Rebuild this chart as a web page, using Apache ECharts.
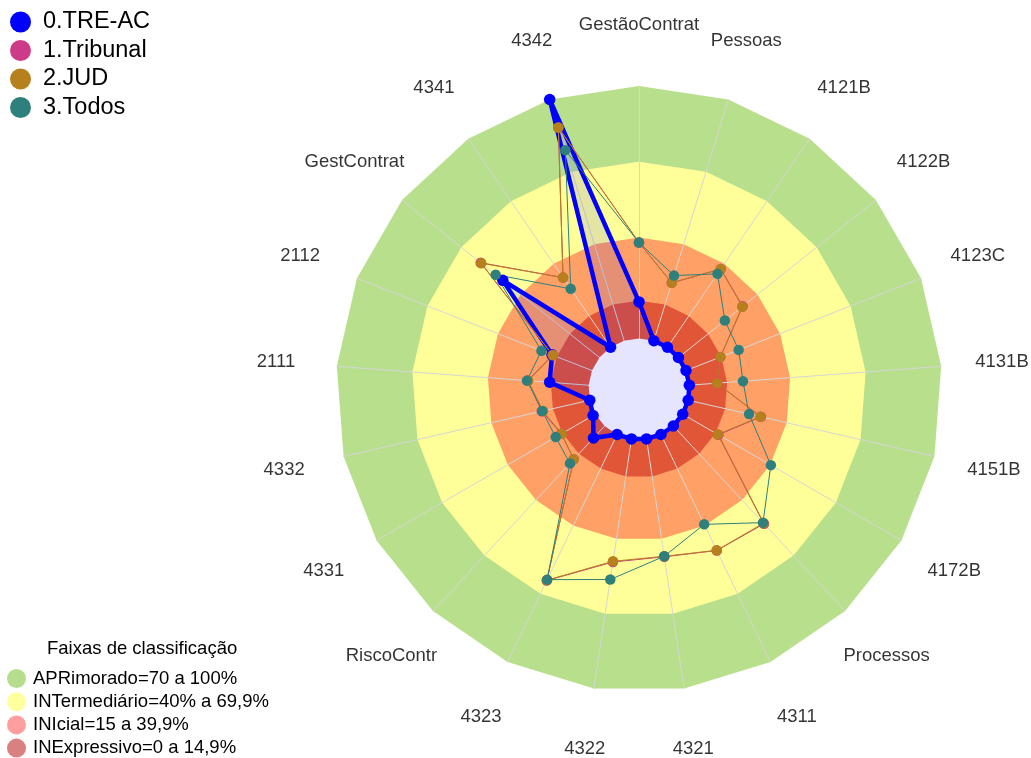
<!DOCTYPE html>
<html><head><meta charset="utf-8">
<script src="https://cdn.jsdelivr.net/npm/echarts@6/dist/echarts.min.js"></script>
<style>html,body{margin:0;padding:0;background:#fff}#c{width:1031px;height:758px}</style>
</head><body><div id="c"></div>
<script>
// ---- data (clockwise from top) ----
const categories = ['GestãoContrat','Pessoas','4121B','4122B','4123C','4131B','4151B','4172B','Processos','4311','4321','4322','4323','RiscoContr','4331','4332','2111','2112','GestContrat','4341','4342'];
const seriesNames = ['0.TRE-AC','1.Tribunal','2.JUD','3.Todos'];
const treAc    = [14.5, 0, 0, 0, 0, 0, 0, 0, 0, 0, 0, 0, 0, 6.5, 1, 0, 15.5, 17, 49, 0, 100];
const tribunal = [38, 24, 37.5, 32.5, 14.6, 11, 29.5, 16.3, 52.8, 51, 47.2, 49.3, 64.2, 18, 15.5, 19.5, 24.2, 16.8, 60.2, 33.4, 88.4];
const jud      = [38, 24, 37.5, 32.3, 14.6, 11, 29.3, 16, 52.5, 50.9, 47, 49, 64, 18, 15.4, 19, 24, 16.6, 59.9, 33.4, 88.4];
const todos    = [38, 27, 35.2, 23.5, 22.4, 21.3, 24.7, 40.3, 52.2, 39.5, 47, 56.3, 63.8, 20.2, 18.1, 19.3, 24.5, 21.5, 52.6, 28, 79];
const bandNames = ['APRimorado=70 a 100%','INTermediário=40% a 69,9%','INIcial=15 a 39,9%','INExpressivo=0 a 14,9%'];
const bandUpper = [100, 70, 40, 15];
const axisMin = -20, axisMax = 100;
const legendTitle = 'Faixas de classificação';

// ---- styles ----
const FONT = '"Liberation Sans", Arial, sans-serif';
const bandColors = ['#B8E08C','#FFFF99','#FFA066','#E25638'];
const bandLegendColors = ['#B6DD8B','#FFFF9E','#FF9E9E','#D98080'];
const seriesColors = ['#0000FF','#CC3A88','#B7801E','#2F7F7C'];
const CENTER = [639, 389];

// ECharts radar runs counter-clockwise: reorder so that reading order is clockwise
const radarOrder = categories.map((_, k) => (categories.length - k) % categories.length);
const toRadar = arr => radarOrder.map(i => arr[i]);

const series = [];
bandNames.forEach((n, b) => series.push({
  type: 'radar', name: n, z: 1, silent: true, symbol: 'none',
  lineStyle: {width: 0, opacity: 0},
  areaStyle: {color: bandColors[b], opacity: 1},
  itemStyle: {color: bandColors[b]},
  data: [{name: n, value: categories.map(() => bandUpper[b])}]
}));
series.push({
  type: 'radar', name: 'hole', z: 3, silent: true, symbol: 'none',
  lineStyle: {width: 0, opacity: 0},
  areaStyle: {color: '#FFFFFF', opacity: 1},
  itemStyle: {color: '#FFFFFF'},
  data: [{name: 'hole', value: categories.map(() => 0)}]
});
[treAc, tribunal, jud, todos].forEach((arr, s) => {
  const o = {
    type: 'radar', name: seriesNames[s], z: 4, silent: true,
    symbol: 'circle', symbolSize: s === 0 ? 11.5 : 10.5,
    lineStyle: {color: seriesColors[s], width: s === 0 ? 4.5 : 1, opacity: 1},
    itemStyle: {color: seriesColors[s]},
    data: [{name: seriesNames[s], value: toRadar(arr)}]
  };
  if (s === 0) o.areaStyle = {color: 'rgba(0,0,255,0.1)', opacity: 1};
  series.push(o);
});
series.push({
  type: 'scatter', coordinateSystem: 'polar', z: 5, silent: true, symbolSize: 1,
  itemStyle: {color: 'rgba(0,0,0,0)'},
  label: {show: true, position: 'inside', formatter: '{b}', color: '#000', fontSize: 18.5, fontFamily: FONT},
  data: categories.map((c, i) => ({name: c, value: [1, i]}))
});

const chart = echarts.init(document.getElementById('c'), null, {renderer: 'canvas'});
chart.setOption({
  animation: false,
  backgroundColor: '#FFFFFF',
  title: {text: legendTitle, left: 47, top: 639, padding: 0,
    textStyle: {fontSize: 18.5, fontWeight: 'normal', fontFamily: FONT, color: '#000'}},
  legend: [
    {orient: 'vertical', left: 10, top: 10, padding: 0, itemWidth: 21, itemHeight: 21, itemGap: 4.5,
     icon: 'circle', selectedMode: false,
     textStyle: {fontSize: 23.5, fontFamily: FONT, color: '#000', padding: [0, 0, 0, 7]},
     data: seriesNames.map((n, s) => ({name: n, itemStyle: {color: seriesColors[s]}}))},
    {orient: 'vertical', left: 7, top: 669, padding: 0, itemWidth: 19, itemHeight: 19, itemGap: 4.2,
     icon: 'circle', selectedMode: false,
     textStyle: {fontSize: 18.5, fontFamily: FONT, color: '#000', padding: [0, 0, 0, 2]},
     data: bandNames.map((n, b) => ({name: n, itemStyle: {color: bandLegendColors[b]}}))}
  ],
  radar: {
    center: CENTER, radius: 303, startAngle: 90, z: 2, shape: 'polygon', splitNumber: 6,
    indicator: radarOrder.map(i => ({name: categories[i], min: axisMin, max: axisMax})),
    axisName: {show: false},
    splitLine: {show: false}, splitArea: {show: false},
    axisTick: {show: false}, axisLabel: {show: false},
    axisLine: {lineStyle: {color: '#D6D6D6', width: 1}}
  },
  polar: {center: CENTER, radius: 364},
  angleAxis: {type: 'value', min: 0, max: categories.length, startAngle: 90, clockwise: true, show: false},
  radiusAxis: {type: 'value', min: 0, max: 1, show: false},
  series: series
});
</script>
</body></html>
